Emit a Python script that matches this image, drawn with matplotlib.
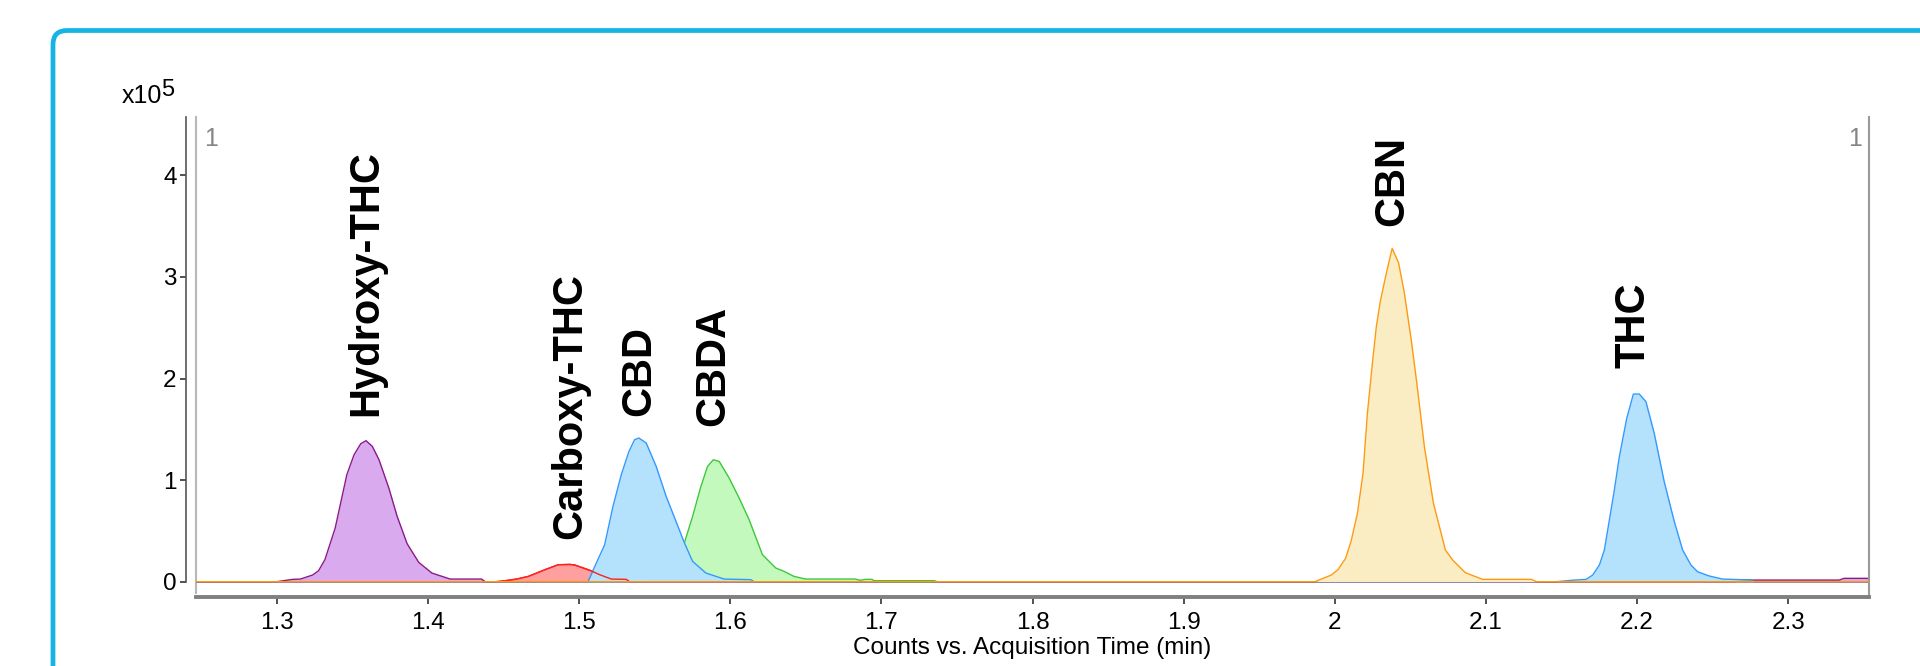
import matplotlib
matplotlib.use("Agg")
import matplotlib.pyplot as plt
from matplotlib.patches import FancyBboxPatch
from matplotlib.transforms import IdentityTransform

plt.rcParams["font.family"] = ["Liberation Sans", "DejaVu Sans"]

# retention time (min) / counts (x10^5)
hydroxy_x = [1.247, 1.300, 1.3105, 1.3156, 1.3237, 1.3276, 1.3318, 1.3386, 1.3463, 1.3511,
             1.3555, 1.359, 1.3632, 1.3676, 1.3741, 1.3796, 1.3862, 1.3939, 1.4026, 1.4147,
             1.4355, 1.4378, 2.265, 2.2665, 2.3337, 2.337, 2.353]
hydroxy_y = [0, 0, 0.023, 0.026, 0.066, 0.108, 0.217, 0.528, 1.053, 1.25,
             1.358, 1.388, 1.332, 1.2, 0.922, 0.643, 0.374, 0.19, 0.085, 0.026,
             0.026, 0.0, 0.0, 0.016, 0.016, 0.033, 0.033]

carboxy_x = [1.247, 1.445, 1.4499, 1.4587, 1.4664, 1.4719, 1.4774, 1.4862, 1.4939, 1.4972,
             1.5071, 1.5136, 1.5213, 1.5312, 1.5334, 2.353]
carboxy_y = [0, 0, 0.007, 0.026, 0.052, 0.085, 0.118, 0.167, 0.17, 0.164,
             0.112, 0.069, 0.026, 0.023, 0.0, 0]

cbd_x = [1.247, 1.5059, 1.5114, 1.5169, 1.5224, 1.5279, 1.533, 1.5367, 1.5396, 1.5444,
         1.551, 1.5576, 1.5641, 1.5697, 1.5751, 1.5839, 1.596, 1.6136, 1.6158, 2.353]
cbd_y = [0, 0, 0.184, 0.364, 0.741, 1.053, 1.283, 1.398, 1.414, 1.365,
         1.135, 0.84, 0.594, 0.381, 0.2, 0.085, 0.026, 0.02, 0, 0]

cbda_x = [1.247, 1.545, 1.555, 1.562, 1.5686, 1.5751, 1.5806, 1.585, 1.5888, 1.5927,
          1.5993, 1.6059, 1.6125, 1.6213, 1.6301, 1.6356, 1.6422, 1.6499, 1.6828, 1.6861,
          1.6894, 1.6938, 1.695, 1.735, 1.737, 2.353]
cbda_y = [0, 0, 0.08, 0.18, 0.331, 0.643, 0.938, 1.135, 1.2, 1.184,
          1.02, 0.823, 0.61, 0.266, 0.135, 0.102, 0.052, 0.026, 0.026, 0.013,
          0.023, 0.023, 0.01, 0.01, 0, 0]

cbn_x = [1.247, 1.9868, 1.9978, 2.0022, 2.0072, 2.011, 2.015, 2.0187, 2.0216, 2.0249,
         2.0275, 2.0301, 2.0341, 2.038, 2.0422, 2.0461, 2.0506, 2.0543, 2.0593, 2.0653,
         2.0732, 2.078, 2.0864, 2.0978, 2.13, 2.1336, 2.353]
cbn_y = [0, 0, 0.066, 0.12, 0.23, 0.41, 0.673, 1.067, 1.657, 2.149,
         2.51, 2.756, 3.035, 3.281, 3.14, 2.838, 2.379, 1.953, 1.329, 0.772,
         0.312, 0.214, 0.089, 0.023, 0.023, 0, 0]

thc_x = [1.247, 2.1465, 2.1586, 2.1663, 2.1707, 2.1751, 2.1784, 2.1817, 2.185, 2.1883,
         2.1932, 2.1976, 2.2015, 2.2059, 2.2114, 2.218, 2.2247, 2.2302, 2.2357, 2.2401,
         2.2478, 2.2566, 2.2765, 2.2775, 2.353]
thc_y = [0, 0, 0.016, 0.023, 0.066, 0.164, 0.312, 0.607, 0.902, 1.23,
         1.608, 1.847, 1.847, 1.772, 1.46, 0.984, 0.59, 0.312, 0.164, 0.098,
         0.056, 0.026, 0.016, 0, 0]

x_ticks = [1.3, 1.4, 1.5, 1.6, 1.7, 1.8, 1.9, 2.0, 2.1, 2.2, 2.3]
x_tick_labels = ["1.3", "1.4", "1.5", "1.6", "1.7", "1.8", "1.9", "2", "2.1", "2.2", "2.3"]
y_ticks = [0, 1, 2, 3, 4]

# (label, x, y, fill, line, label offset above apex), drawn bottom -> top
traces = [
    ("Carboxy-THC", carboxy_x, carboxy_y, "#ffa0a0", "#ff2020", 0.25),
    ("CBDA", cbda_x, cbda_y, "#c3f9bc", "#3cc83c", 0.33),
    ("CBD", cbd_x, cbd_y, "#b4e2fc", "#3399ff", 0.22),
    ("Hydroxy-THC", hydroxy_x, hydroxy_y, "#d9aaee", "#8a1a8a", 0.24),
    ("THC", thc_x, thc_y, "#b4e2fc", "#3399ff", 0.26),
    ("CBN", cbn_x, cbn_y, "#fbedc3", "#ff9a10", 0.22),
]

W, H = 1920, 666
fig = plt.figure(figsize=(W / 100, H / 100), dpi=100)
ax = fig.add_axes([196 / W, 1 - 597 / H, (1869 - 196) / W, (597 - 117) / H])
ax.set_xlim(1.2465, 2.3535)
ax.set_ylim(-0.1506, 4.574)

for i, (name, xs, ys, fc, lc, off) in enumerate(traces):
    z = 2 + i * 0.1
    ax.fill_between(xs, 0, ys, color=fc, lw=0, zorder=z)
    ax.plot(xs, ys, color=lc, lw=1.0, zorder=z + 0.05)
    k = ys.index(max(ys))
    ax.text(xs[k], ys[k] + off, name, rotation=90, ha="center", va="bottom",
            fontsize=30, fontweight="bold", color="black", zorder=5)

# red trace line stays visible over the CBD fill
ax.plot(carboxy_x, carboxy_y, color="#ff2020", lw=1.0, zorder=2.35)

# axes styling
ax.spines["top"].set_visible(False)
ax.spines["left"].set_position(("outward", 7))
ax.spines["left"].set_bounds(0, 4.574)
ax.spines["left"].set_color("#555555")
ax.spines["left"].set_linewidth(1.2)
ax.spines["right"].set_color("#9a9a9a")
ax.spines["right"].set_linewidth(1.5)
ax.spines["bottom"].set_color("#808080")
ax.spines["bottom"].set_linewidth(2.8)
ax.plot([0, 0], [0.008, 1], transform=ax.transAxes, color="#b8b8b8", lw=1.5, clip_on=False)

ax.set_xticks(x_ticks)
ax.set_xticklabels(x_tick_labels)
ax.set_yticks(y_ticks)
ax.tick_params(axis="x", length=5, width=1.2, color="#333333", labelsize=17.5, pad=6)
ax.tick_params(axis="y", length=4, width=1.2, color="#333333", labelsize=17.5, pad=3)
ax.set_xlabel("Counts vs. Acquisition Time (min)", fontsize=17.5, labelpad=2)

ax.text(0.005, 0.98, "1", transform=ax.transAxes, ha="left", va="top", fontsize=18, color="#858585")
ax.text(0.996, 0.98, "1", transform=ax.transAxes, ha="right", va="top", fontsize=18, color="#858585")

fig.text(122 / W, 1 - 103 / H, "x10", fontsize=18, ha="left", va="baseline")
fig.text(161 / W, 1 - 96 / H, "5", fontsize=17, ha="left", va="baseline")

# blue rounded frame running off the right and bottom edges
frame = FancyBboxPatch((53, -60), 2000, (H - 30.5) + 60,
                       boxstyle="round,pad=0,rounding_size=14",
                       transform=IdentityTransform(), fill=False,
                       edgecolor="#14b4e4", lw=3.4)
fig.add_artist(frame)

fig.savefig("out.png", dpi=100)
